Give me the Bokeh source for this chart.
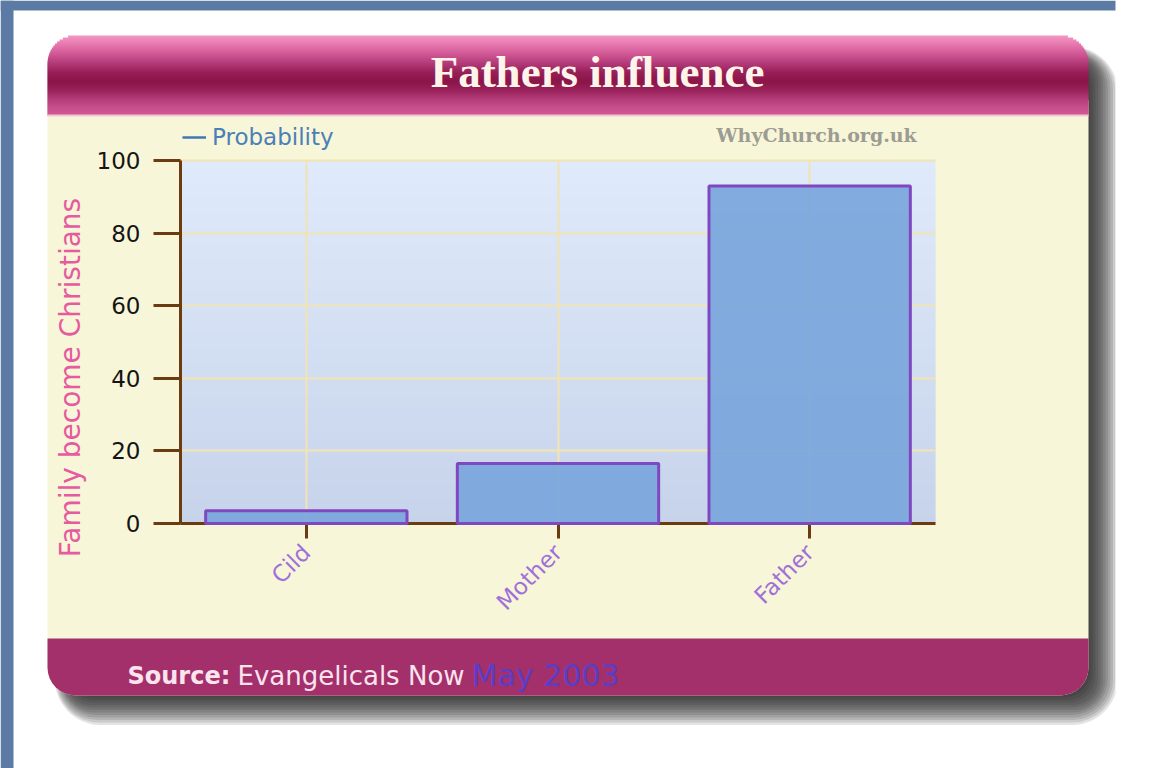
from math import pi, sqrt
from bokeh.plotting import figure
from bokeh.models import (BoxAnnotation, Label, Range1d, FactorRange, FixedTicker,
                          Legend, LegendItem, ColumnDataSource)
from bokeh.embed import file_html
from bokeh.resources import INLINE

# ---------------- data ----------------
categories = ["Cild", "Mother", "Father"]
probability = [3.5, 16.5, 93]
y_ticks = [0, 20, 40, 60, 80, 100]
y_min, y_max = 0, 100
title_text = "Fathers influence"
y_label = "Family become Christians"
series_name = "Probability"
watermark = "WhyChurch.org.uk"
source_prefix = "Source:"
source_name = "Evangelicals Now"
source_date = "May 2003"

# ---------------- layout (page pixel coords) ----------------
W, H = 1173, 768
FL, FR, FT, FB = 180, 935, 160, 523          # chart area on the page
CL, CR, CT, CB = 47, 1088, 35, 695           # card
RAD = 28
RIGHT_BORDER = W - FR - FL                    # keeps the chart area symmetric in the frame

# ranges: the whole frame is the page; the chart area sits inside it
unit_x = (FR - FL) / len(categories)
pad_x = FL / unit_x
unit_y = (FB - FT) / (y_max - y_min)
x_range = FactorRange(factors=categories, range_padding=pad_x,
                      range_padding_units="absolute")
y_range = Range1d(y_min - (H - FB) / unit_y, y_max + FT / unit_y)

p = figure(width=W, height=H, x_range=x_range, y_range=y_range,
           output_backend="svg", toolbar_location=None,
           min_border_left=0, min_border_top=0, min_border_bottom=0,
           min_border_right=RIGHT_BORDER)
p.title.visible = False
p.border_fill_color = "white"
p.background_fill_color = "white"
p.outline_line_color = None


def box(X0, Y0, X1, Y1, color, alpha=1.0, radius=0):
    if isinstance(radius, tuple):
        radius = tuple(int(round(r)) for r in radius)
    else:
        radius = int(round(radius))
    p.add_layout(BoxAnnotation(left=X0, right=X1, top=H - Y0, bottom=H - Y1,
                               left_units="screen", right_units="screen",
                               top_units="screen", bottom_units="screen",
                               fill_color=color, fill_alpha=alpha, line_color=None,
                               border_radius=radius, level="image"))


def hex2rgb(h):
    h = h.lstrip("#")
    return tuple(int(h[i:i + 2], 16) for i in (0, 2, 4))


def interp(stops, y):
    if y <= stops[0][0]:
        return stops[0][1]
    for (y0, c0), (y1, c1) in zip(stops[:-1], stops[1:]):
        if y0 <= y <= y1:
            t = (y - y0) / (y1 - y0)
            a, b = hex2rgb(c0), hex2rgb(c1)
            return "#%02x%02x%02x" % tuple(int(round(a[i] + (b[i] - a[i]) * t)) for i in range(3))
    return stops[-1][1]


# slide background edges
box(0, 0, 13, H, "#5b7ba4")
box(0, 0, W, 10, "#5b7ba4")

# drop shadow (layered to fake a blur)
for i in range(12):
    e = -8 + 2.5 * i
    r = 26 + max(e, 0)
    box(64 - 0.5 * e, 56 - 0.5 * e, CR + 10 + e, CB + 10 + e, "#1c1c16",
        alpha=0.12, radius=r)

# card body + footer
box(CL, 100, CR, CB, "#f8f6d8", radius=(0, 0, RAD, RAD))
box(CL, 638, CR, CB, "#a3306a", radius=(0, 0, RAD, RAD))

# header gradient with rounded top corners
header_stops = [(35, "#f596c4"), (42, "#ea7fb4"), (52, "#d45c99"), (62, "#b53d7b"),
                (72, "#971f57"), (81, "#8a1548"), (89, "#982059"), (99, "#b43e79"),
                (108, "#c9508c"), (115, "#d05a94")]
Y = CT
while Y < 115:
    yc = Y + 1
    inset = 0.0
    if yc < CT + RAD:
        dy = (CT + RAD) - yc
        inset = RAD - sqrt(max(RAD * RAD - dy * dy, 0))
    box(CL + inset, Y, CR - inset, min(Y + 3, 115), interp(header_stops, yc))
    Y += 2
box(CL, 114, CR, 116, "#f2c6d4")

# chart-area vertical gradient
frame_stops = [(FT, "#dfebfb"), (340, "#d3dff2"), (FB, "#c7d3ea")]
Y = FT
while Y < FB:
    box(FL, Y, FR, min(Y + 3, FB), interp(frame_stops, Y + 1))
    Y += 2

# grids, limited to the chart area
p.xgrid.grid_line_color = "#f1e3b2"
p.xgrid.grid_line_width = 2
p.xgrid.cross_bounds = (y_min, y_max)
p.ygrid.ticker = FixedTicker(ticks=y_ticks)
p.ygrid.grid_line_color = "#f1e3b2"
p.ygrid.grid_line_width = 2
p.ygrid.cross_bounds = (0, len(categories))

# axes, pinned to the chart area
AX = "#6b3b12"
for ax in (p.xaxis, p.yaxis):
    ax.axis_line_color = AX
    ax.axis_line_width = 3
    ax.major_tick_line_color = AX
    ax.major_tick_line_width = 3
    ax.major_tick_in = 0
    ax.minor_tick_line_color = None
    ax.fixed_location = 0

p.yaxis.bounds = (y_min, y_max)
p.yaxis.ticker = FixedTicker(ticks=y_ticks)
p.yaxis.major_tick_out = 27
p.yaxis.major_label_standoff = 13
p.yaxis.major_label_text_font = "DejaVu Sans"
p.yaxis.major_label_text_font_size = "23px"
p.yaxis.major_label_text_color = "#151515"

p.xaxis.bounds = (0, len(categories))
p.xaxis.major_tick_out = 15
p.xaxis.major_label_orientation = pi / 4
p.xaxis.major_label_standoff = 10
p.xaxis.major_label_text_font = "DejaVu Sans"
p.xaxis.major_label_text_font_size = "23px"
p.xaxis.major_label_text_color = "#a070d8"

# bars
src = ColumnDataSource(dict(cat=categories, val=probability))
p.vbar(x="cat", top="val", width=0.8, source=src, fill_color="#7aa6dc",
       fill_alpha=0.92, line_color="#8048c0", line_width=3, level="overlay")

# legend: a line sample only (one undefined point, so nothing is drawn in the chart)
ln = p.line(x=[categories[0]], y=[float("nan")], line_color="#3f77b6", line_width=2.5)
legend = Legend(items=[LegendItem(label=series_name, renderers=[ln])],
                location=(182, H - 150), padding=0, margin=0, spacing=0,
                background_fill_alpha=0, border_line_color=None,
                glyph_width=24, glyph_height=20, label_standoff=6,
                label_text_font="DejaVu Sans", label_text_font_size="23px",
                label_text_color="#4a7fb8")
p.add_layout(legend)


def label(X, Y, text, size, color, font="DejaVu Sans", style="normal",
          align="left", angle=0, baseline="middle"):
    p.add_layout(Label(x=X, y=H - Y, x_units="screen", y_units="screen",
                       text=text, text_font_size=f"{size}px", text_color=color,
                       text_font=font, text_font_style=style, text_align=align,
                       text_baseline=baseline, angle=angle))


label(597, 71, title_text, 45, "#fff4ea", font="Liberation Serif", style="bold",
      align="center")
label(816, 134, watermark, 19, "#9c9c92", font="DejaVu Serif", style="bold", align="center")
label(70, 377, y_label, 28, "#e65aa0", align="center", angle=pi / 2)
label(127, 675, source_prefix, 24, "#fce4ee", style="bold")
label(237, 675, source_name, 26, "#fbe3ee")
label(471, 675, source_date, 30, "#5a3ec8")

open("out.html", "w").write(file_html(p, INLINE))
